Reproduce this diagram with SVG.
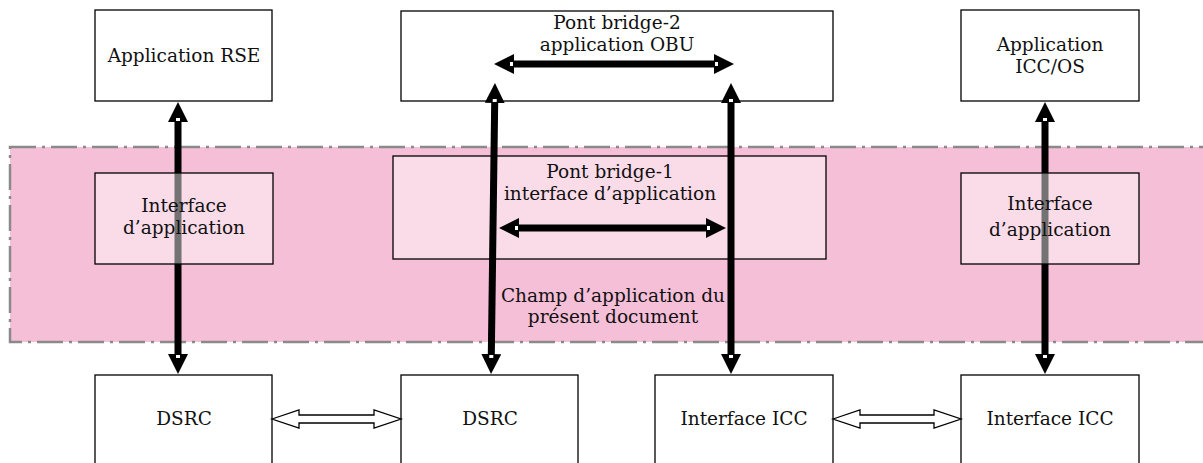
<svg xmlns="http://www.w3.org/2000/svg" width="1203" height="463" viewBox="0 0 1203 463">
  <style>
    .box { fill: #ffffff; stroke: #000000; stroke-width: 1.3; }
    .inner { fill: #ffffff; fill-opacity: 0.45; stroke: #000000; stroke-width: 1.3; }
    .lbl { font-family: "DejaVu Serif", "Liberation Serif", serif; font-size: 18.5px; fill: #111111; text-anchor: middle; }
    .link { stroke: #000000; stroke-width: 7; fill: none; }
    .hollow { fill: #ffffff; stroke: #000000; stroke-width: 1.3; }
  </style>
  <defs>
    <!-- arrowhead sits beyond the line end; base notch in white -->
    <marker id="head" viewBox="0 0 20 20" refX="1" refY="10" markerWidth="20" markerHeight="20" markerUnits="userSpaceOnUse" orient="auto-start-reverse">
      <path d="M0,0 L20,10 L0,20 Z" fill="#000000"/>
      <rect x="1" y="8" width="3" height="4" fill="#ffffff"/>
    </marker>
  </defs>

  <!-- scope band -->
  <rect id="scope" x="10" y="147" width="1200" height="195" fill="#f6bfd8" stroke="#8a8a8a" stroke-width="2.5" stroke-dasharray="26,6,3,6"/>

  <!-- top row -->
  <g id="app-rse">
    <rect class="box" x="95" y="10" width="177" height="91"/>
    <text class="lbl" x="184" y="62">Application RSE</text>
  </g>
  <g id="bridge-2">
    <rect class="box" x="401" y="11" width="432" height="90"/>
    <text class="lbl" x="617" y="29">Pont bridge-2</text>
    <text class="lbl" x="617" y="51">application OBU</text>
  </g>
  <g id="app-icc">
    <rect class="box" x="961" y="10" width="178" height="91"/>
    <text class="lbl" x="1050" y="51">Application</text>
    <text class="lbl" x="1050" y="73">ICC/OS</text>
  </g>

  <!-- bottom row -->
  <g id="dsrc-rse">
    <rect class="box" x="95" y="375" width="177" height="95"/>
    <text class="lbl" x="184" y="425">DSRC</text>
  </g>
  <g id="dsrc-obu">
    <rect class="box" x="401" y="375" width="177" height="95"/>
    <text class="lbl" x="490" y="425">DSRC</text>
  </g>
  <g id="icc-obu">
    <rect class="box" x="655" y="375" width="178" height="95"/>
    <text class="lbl" x="744" y="425">Interface ICC</text>
  </g>
  <g id="icc-card">
    <rect class="box" x="961" y="375" width="178" height="95"/>
    <text class="lbl" x="1050" y="425">Interface ICC</text>
  </g>

  <!-- side links run underneath the translucent interface boxes -->
  <g id="side-links">
    <line class="link" x1="178" y1="121" x2="178" y2="355" marker-start="url(#head)" marker-end="url(#head)"/>
    <line class="link" x1="1045" y1="121" x2="1045" y2="355" marker-start="url(#head)" marker-end="url(#head)"/>
  </g>

  <g id="if-rse">
    <rect class="inner" x="95" y="173" width="178" height="91"/>
    <text class="lbl" x="184" y="212">Interface</text>
    <text class="lbl" x="184" y="234">d’application</text>
  </g>
  <g id="if-icc">
    <rect class="inner" x="961" y="173" width="178" height="91"/>
    <text class="lbl" x="1050" y="210">Interface</text>
    <text class="lbl" x="1050" y="236">d’application</text>
  </g>
  <g id="bridge-1">
    <rect class="inner" x="393" y="156" width="433" height="103"/>
    <text class="lbl" x="610" y="178">Pont bridge-1</text>
    <text class="lbl" x="610" y="200">interface d’application</text>
  </g>
  <g id="scope-label">
    <text class="lbl" x="613" y="302">Champ d’application du</text>
    <text class="lbl" x="613" y="323">présent document</text>
  </g>

  <!-- connectors -->
  <g id="connectors">
    <line class="link" x1="494.7" y1="102" x2="491.3" y2="355" marker-start="url(#head)" marker-end="url(#head)"/>
    <line class="link" x1="731" y1="102" x2="731" y2="355" marker-start="url(#head)" marker-end="url(#head)"/>
    <line class="link" x1="513" y1="64" x2="715" y2="64" marker-start="url(#head)" marker-end="url(#head)"/>
    <line class="link" x1="518" y1="228" x2="707" y2="228" marker-start="url(#head)" marker-end="url(#head)"/>
    <path class="hollow" d="M272,419 L299,410 L299,415 L374,415 L374,410 L401,419 L374,428 L374,423 L299,423 L299,428 Z"/>
    <path class="hollow" d="M833,419 L860,410 L860,415 L934,415 L934,410 L961,419 L934,428 L934,423 L860,423 L860,428 Z"/>
  </g>
</svg>
